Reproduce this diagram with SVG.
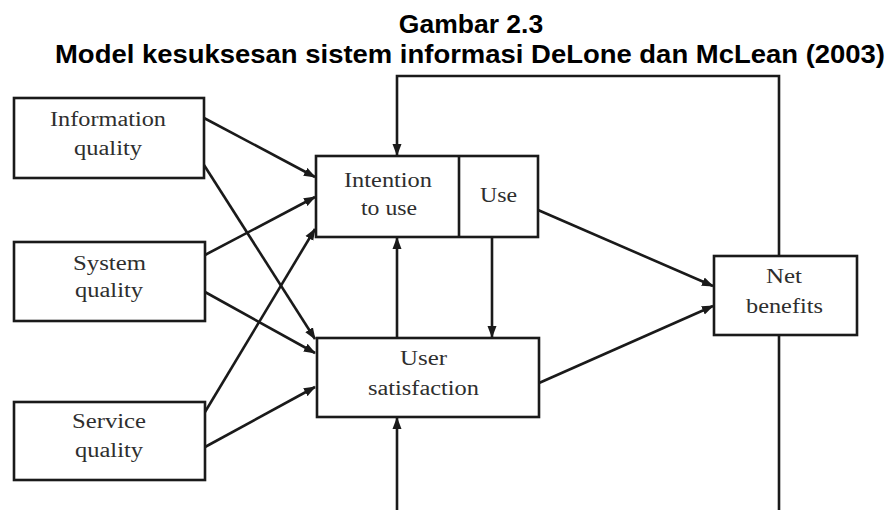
<svg xmlns="http://www.w3.org/2000/svg" width="891" height="510" viewBox="0 0 891 510">
  <style>
    .box { fill: #fff; stroke: #1a1a1a; stroke-width: 2.6; }
    .lbl { font-family: "Liberation Serif", "Times New Roman", serif; font-size: 20px; fill: #2e2e2e; text-anchor: middle; }
    .title { font-family: "Liberation Sans", Arial, sans-serif; font-weight: bold; font-size: 26.5px; fill: #000; text-anchor: middle; }
    .edge { fill: none; stroke: #1a1a1a; stroke-width: 2.6; }
    .arr { marker-end: url(#head); }
  </style>
  <defs>
    <marker id="head" markerUnits="userSpaceOnUse" markerWidth="12" markerHeight="10" refX="11" refY="5" orient="auto">
      <path d="M0,0.5 L12,5 L0,9.5 z" fill="#1a1a1a"/>
    </marker>
  </defs>
  <rect width="891" height="510" fill="#fff"/>

  <g id="title">
    <text class="title" x="471" y="33">Gambar 2.3</text>
    <text class="title" x="470" y="63" textLength="830" lengthAdjust="spacingAndGlyphs">Model kesuksesan sistem informasi DeLone dan McLean (2003)</text>
  </g>

  <g id="connectors">
    <!-- feedback loop from net benefits (runs off the bottom edge) -->
    <path class="edge arr" d="M779,256 V76 H397 V155"/>
    <path class="edge" d="M779,335 V512"/>
    <path class="edge arr" d="M397,512 V418"/>
    <!-- quality dimensions to intention / satisfaction -->
    <line class="edge arr" x1="204" y1="118" x2="315" y2="177"/>
    <line class="edge arr" x1="204" y1="165" x2="315" y2="339"/>
    <line class="edge arr" x1="205" y1="255" x2="315" y2="197"/>
    <line class="edge arr" x1="205" y1="292" x2="315" y2="353"/>
    <line class="edge arr" x1="205" y1="412" x2="315" y2="229"/>
    <line class="edge arr" x1="205" y1="447" x2="315" y2="387"/>
    <!-- between intention/use and user satisfaction -->
    <line class="edge arr" x1="397" y1="338" x2="397" y2="238"/>
    <line class="edge arr" x1="492" y1="237" x2="492" y2="337"/>
    <!-- to net benefits -->
    <line class="edge arr" x1="538" y1="210" x2="713" y2="286"/>
    <line class="edge arr" x1="539" y1="383" x2="713" y2="306"/>
  </g>

  <g id="information-quality">
    <rect class="box" x="14" y="98" width="190" height="80"/>
    <text class="lbl" x="108" y="126" textLength="116" lengthAdjust="spacingAndGlyphs">Information</text>
    <text class="lbl" x="108" y="155" textLength="68" lengthAdjust="spacingAndGlyphs">quality</text>
  </g>

  <g id="system-quality">
    <rect class="box" x="14" y="242" width="191" height="79"/>
    <text class="lbl" x="109.5" y="270" textLength="73" lengthAdjust="spacingAndGlyphs">System</text>
    <text class="lbl" x="109" y="297" textLength="68" lengthAdjust="spacingAndGlyphs">quality</text>
  </g>

  <g id="service-quality">
    <rect class="box" x="14" y="402" width="191" height="78"/>
    <text class="lbl" x="109" y="428" textLength="74" lengthAdjust="spacingAndGlyphs">Service</text>
    <text class="lbl" x="109" y="457" textLength="68" lengthAdjust="spacingAndGlyphs">quality</text>
  </g>

  <g id="intention-use">
    <rect class="box" x="316" y="156" width="222" height="81"/>
    <line class="edge" x1="459" y1="156" x2="459" y2="237"/>
    <text class="lbl" x="388" y="187" textLength="88" lengthAdjust="spacingAndGlyphs">Intention</text>
    <text class="lbl" x="389" y="215" textLength="56" lengthAdjust="spacingAndGlyphs">to use</text>
    <text class="lbl" x="498.5" y="202" textLength="37" lengthAdjust="spacingAndGlyphs">Use</text>
  </g>

  <g id="user-satisfaction">
    <rect class="box" x="317" y="338" width="222" height="79"/>
    <text class="lbl" x="423.5" y="365" textLength="47" lengthAdjust="spacingAndGlyphs">User</text>
    <text class="lbl" x="423.5" y="395" textLength="111" lengthAdjust="spacingAndGlyphs">satisfaction</text>
  </g>

  <g id="net-benefits">
    <rect class="box" x="714" y="256" width="143" height="79"/>
    <text class="lbl" x="784" y="283" textLength="36" lengthAdjust="spacingAndGlyphs">Net</text>
    <text class="lbl" x="784.5" y="313" textLength="77" lengthAdjust="spacingAndGlyphs">benefits</text>
  </g>
</svg>
